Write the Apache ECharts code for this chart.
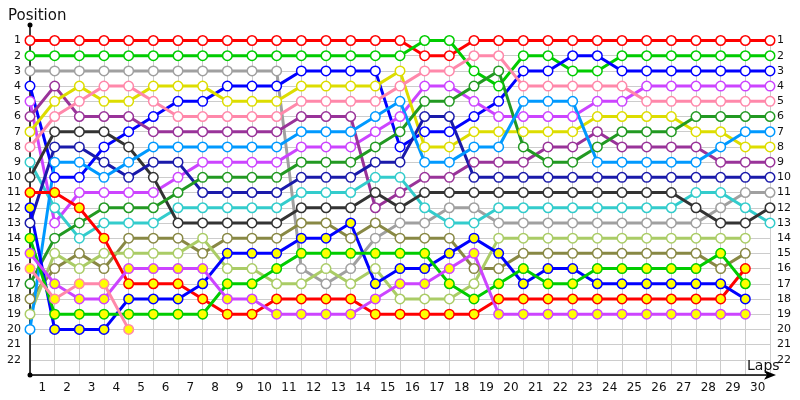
<!DOCTYPE html>
<html>
<head>
<meta charset="utf-8">
<script src="https://cdn.jsdelivr.net/npm/echarts@6/dist/echarts.min.js"></script>
<style>html,body{margin:0;padding:0;background:#fff}#c{width:800px;height:400px}</style>
</head>
<body>
<div id="c"></div>
<script>
// Lap labels
const lapLabels = ['1','2','3','4','5','6','7','8','9','10','11','12','13','14','15','16','17','18','19','20','21','22','23','24','25','26','27','28','29','30'];
const posLabels = ['1','2','3','4','5','6','7','8','9','10','11','12','13','14','15','16','17','18','19','20','21','22'];

// Positions per lap (index 0 = start grid, then laps 1..30); null = not running
const red     = [1,1,1,1,1,1,1,1,1,1,1,1,1,1,1,1,2,2,1,1,1,1,1,1,1,1,1,1,1,1,1];
const green   = [2,2,2,2,2,2,2,2,2,2,2,2,2,2,2,2,1,1,3,4,2,2,3,3,2,2,2,2,2,2,2];
const gray    = [3,3,3,3,3,3,3,3,3,3,3,16,17,16,14,13,13,12,12,13,13,13,13,13,13,13,13,13,12,11,11];
const blue    = [4,10,10,8,7,6,5,5,4,4,4,3,3,3,3,8,7,7,6,5,3,3,2,2,3,3,3,3,3,3,3];
const magenta = [5,13,11,11,11,11,10,9,9,9,9,8,8,8,7,6,4,4,5,6,6,6,6,5,5,4,4,4,4,4,4];
const purple  = [6,4,6,6,6,7,7,7,7,7,7,6,6,6,12,11,10,10,9,9,9,8,8,7,8,8,8,8,9,9,9];
const yellow  = [7,5,4,5,5,4,4,4,5,5,5,4,4,4,4,3,8,8,7,7,7,7,7,6,6,6,6,7,7,8,8];
const pink    = [8,6,5,4,4,5,6,6,6,6,6,5,5,5,5,4,3,3,2,2,4,4,4,4,4,5,5,5,5,5,5];
const teal    = [9,12,14,13,13,13,12,12,12,12,12,11,11,11,10,10,12,13,13,12,12,12,12,12,12,12,12,11,11,12,13];
const dkgray  = [10,7,7,7,8,10,13,13,13,13,13,12,12,12,11,12,11,11,11,11,11,11,11,11,11,11,11,12,13,13,12];
const red2    = [11,11,12,14,17,17,17,18,19,19,18,18,18,18,19,19,19,19,19,18,18,18,18,18,18,18,18,18,18,16,null];
const blue2   = [12,20,20,20,18,18,18,17,15,15,15,14,14,13,17,16,16,15,14,15,17,16,16,17,17,17,17,17,17,18,null];
const navy    = [13,8,8,9,10,9,9,11,11,11,11,10,10,10,9,9,6,6,10,10,10,10,10,10,10,10,10,10,10,10,10];
const green2  = [14,19,19,19,19,19,19,19,17,17,16,15,15,15,15,15,15,17,18,17,16,17,17,16,16,16,16,16,15,17,null];
const magenta2= [15,17,18,18,16,16,16,16,18,18,19,19,19,19,18,17,17,16,15,19,19,19,19,19,19,19,19,19,19,19,null];
const pink2   = [16,18,17,17,20,null,null,null,null,null,null,null,null,null,null,null,null,null,null,null,null,null,null,null,null,null,null,null,null,null,null];
const dkgreen = [17,14,13,12,12,12,11,10,10,10,10,9,9,9,8,7,5,5,4,3,8,9,9,8,7,7,7,6,6,6,6];
const olive   = [18,16,15,16,14,14,14,15,14,14,14,13,13,14,13,14,14,14,16,16,15,15,15,15,15,15,15,15,16,15,null];
const ltolive = [19,15,16,15,15,15,15,14,16,16,17,17,16,17,16,18,18,18,17,14,14,14,14,14,14,14,14,14,14,14,null];
const ltblue  = [20,9,9,10,9,8,8,8,8,8,8,7,7,7,6,5,9,9,8,8,5,5,5,9,9,9,9,9,8,7,7];

const drivers = [
  {name:'red', d:red, c:'#ff0000', f:'#ffffff'},
  {name:'green', d:green, c:'#00cc00', f:'#ffffff'},
  {name:'gray', d:gray, c:'#a0a0a0', f:'#ffffff'},
  {name:'blue', d:blue, c:'#0000ff', f:'#ffffff'},
  {name:'magenta', d:magenta, c:'#cc44ff', f:'#ffffff'},
  {name:'purple', d:purple, c:'#993399', f:'#ffffff'},
  {name:'yellow', d:yellow, c:'#dddd00', f:'#ffffff'},
  {name:'pink', d:pink, c:'#ff88aa', f:'#ffffff'},
  {name:'teal', d:teal, c:'#33cccc', f:'#ffffff'},
  {name:'dkgray', d:dkgray, c:'#333333', f:'#ffffff'},
  {name:'navy', d:navy, c:'#1a1aaa', f:'#ffffff'},
  {name:'dkgreen', d:dkgreen, c:'#229922', f:'#ffffff'},
  {name:'olive', d:olive, c:'#888844', f:'#ffffff'},
  {name:'ltolive', d:ltolive, c:'#aacc66', f:'#ffffff'},
  {name:'ltblue', d:ltblue, c:'#0099ff', f:'#ffffff'},
  {name:'red2', d:red2, c:'#ff0000', f:'#ffff00'},
  {name:'blue2', d:blue2, c:'#0000ff', f:'#ffff00'},
  {name:'green2', d:green2, c:'#00cc00', f:'#ffff00'},
  {name:'magenta2', d:magenta2, c:'#cc44ff', f:'#ffff00'},
  {name:'pink2', d:pink2, c:'#ff88aa', f:'#ffff00'}
];

const series = drivers.map(dr => ({
  name: dr.name,
  type: 'line',
  clip: false,
  data: dr.d.map((p,i) => p === null ? null : [i,p]).filter(v => v !== null),
  symbol: 'circle',
  symbolSize: 9.5,
  showAllSymbol: true,
  lineStyle: {color: dr.c, width: 3},
  itemStyle: {color: dr.f, borderColor: dr.c, borderWidth: 1.5},
  emphasis: {disabled: true},
  animation: false
}));

const chart = echarts.init(document.getElementById('c'), null, {renderer:'canvas'});
const numFont = {fontFamily:'DejaVu Sans', fontSize:11, color:'#111'};
chart.setOption({
  animation: false,
  backgroundColor: '#fff',
  title: [
    {text:'Position', left:3, top:4, textStyle:{fontFamily:'DejaVu Sans', fontSize:15, fontWeight:'normal', color:'#111'}},
    {text:'Laps', left:742, top:354, textStyle:{fontFamily:'DejaVu Sans', fontSize:14, fontWeight:'normal', color:'#111'}}
  ],
  grid: {left:30, right:30, top:40.5, bottom:25, containLabel:false},
  xAxis: [
    {type:'value', min:0, max:30, interval:1, position:'bottom',
     axisLine:{show:true, onZero:false, lineStyle:{color:'#000', width:1.5}, symbol:['none','arrow'], symbolSize:[7,12], symbolOffset:[0,6]},
     axisTick:{show:false}, axisLabel:{show:false},
     splitLine:{show:true, lineStyle:{color:'#cccccc', width:1}}},
    {type:'category', data: lapLabels, boundaryGap:true, position:'bottom',
     axisLine:{show:false, onZero:false}, axisTick:{show:false},
     axisLabel:{show:true, interval:0, margin:7, fontFamily:'DejaVu Sans', fontSize:12, color:'#111'},
     splitLine:{show:false}}
  ],
  yAxis: [
    {type:'value', inverse:true, min:1, max:23, interval:1, position:'left',
     axisLine:{show:true, onZero:false, lineStyle:{color:'#000', width:1.5}},
     axisTick:{show:false},
     axisLabel:Object.assign({margin:9, formatter: v => posLabels.includes(String(v)) ? String(v) : ''}, numFont),
     splitLine:{show:true, lineStyle:{color:'#cccccc', width:1}}},
    {type:'value', inverse:true, min:1, max:23, interval:1, position:'right',
     axisLine:{show:false, onZero:false}, axisTick:{show:false},
     axisLabel:Object.assign({margin:7, align:'left', formatter: v => posLabels.includes(String(v)) ? String(v) : ''}, numFont),
     splitLine:{show:false}}
  ],
  graphic: [
    {type:'line', shape:{x1:30, y1:25, x2:30, y2:41}, style:{stroke:'#000', lineWidth:1.5}, z:1},
    {type:'circle', shape:{cx:30, cy:25, r:2.5}, style:{fill:'#000'}, z:1},
    {type:'circle', shape:{cx:30, cy:375, r:2.5}, style:{fill:'#000'}, z:1}
  ],
  series: series
});
</script>
</body>
</html>
